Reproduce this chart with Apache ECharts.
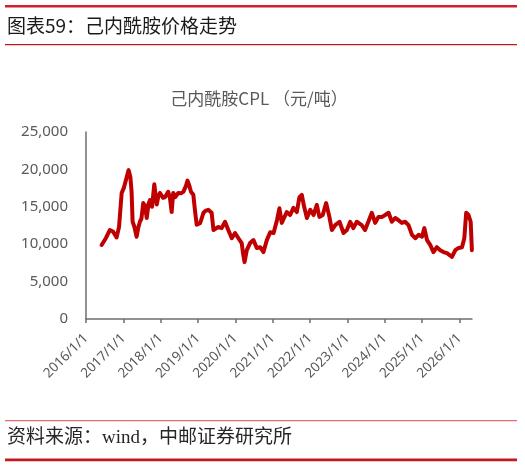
<!DOCTYPE html>
<html>
<head>
<meta charset="utf-8">
<script src="https://cdn.jsdelivr.net/npm/echarts@6/dist/echarts.min.js"></script>
<style>
  html, body { margin: 0; padding: 0; background: #fff; }
  #main { width: 525px; height: 467px; }
</style>
</head>
<body>
<div id="main"></div>
<script>
// 己内酰胺CPL价格（元/吨），读图估计
const dates = [
  '2016-06-02', '2016-07-13', '2016-08-22', '2016-09-21', '2016-10-26', '2016-11-19', '2016-12-15',
  '2017-01-07', '2017-02-03', '2017-02-21', '2017-03-10', '2017-03-22', '2017-04-01', '2017-04-19',
  '2017-05-10', '2017-05-28', '2017-06-11', '2017-06-26', '2017-07-14', '2017-07-30', '2017-08-17',
  '2017-09-04', '2017-09-18', '2017-10-08', '2017-10-30', '2017-11-23', '2017-12-10', '2017-12-25',
  '2018-01-24', '2018-02-13', '2018-03-15', '2018-04-01', '2018-04-18', '2018-05-03', '2018-05-24',
  '2018-06-21', '2018-07-17', '2018-08-10', '2018-09-05', '2018-09-20', '2018-10-04', '2018-10-24',
  '2018-11-16', '2018-12-02', '2018-12-19', '2019-01-21', '2019-02-23', '2019-03-19', '2019-04-11',
  '2019-05-14', '2019-06-01', '2019-06-16', '2019-07-18', '2019-08-20', '2019-09-22', '2019-10-24',
  '2019-11-27', '2019-12-29', '2020-01-31', '2020-03-03', '2020-03-16', '2020-03-31', '2020-04-22',
  '2020-05-24', '2020-06-26', '2020-07-29', '2020-08-31', '2020-10-02', '2020-11-04', '2020-12-07',
  '2021-01-09', '2021-02-11', '2021-03-07', '2021-03-30', '2021-04-15', '2021-05-18', '2021-06-20',
  '2021-07-22', '2021-08-24', '2021-09-19', '2021-10-12', '2021-11-04', '2021-12-01', '2022-01-03',
  '2022-02-04', '2022-03-08', '2022-04-02', '2022-05-05', '2022-06-07', '2022-07-09', '2022-08-02',
  '2022-09-04', '2022-10-16', '2022-11-24', '2022-12-27', '2023-01-29', '2023-02-28', '2023-04-03',
  '2023-05-21', '2023-06-23', '2023-07-25', '2023-08-28', '2023-09-30', '2023-11-01', '2023-12-04',
  '2024-01-06', '2024-02-08', '2024-03-11', '2024-04-13', '2024-05-15', '2024-06-17', '2024-07-19',
  '2024-08-21', '2024-09-24', '2024-10-26', '2024-11-28', '2024-12-31', '2025-01-23', '2025-02-18',
  '2025-03-21', '2025-04-22', '2025-05-25', '2025-06-27', '2025-07-29', '2025-09-01', '2025-10-20',
  '2025-11-22', '2025-12-24', '2026-01-26', '2026-02-18', '2026-03-08', '2026-03-31', '2026-04-21',
  '2026-05-03'
];
const prices = [
  9900, 10800, 11900, 11700, 10900, 12300, 16850,
  17600, 19000, 19900, 19000, 17000, 13000, 12300,
  11000, 12300, 13000, 13400, 15500, 15200, 13500,
  15400, 15900, 15000, 18000, 15300, 16500, 16850,
  16200, 16300, 17000, 16200, 14300, 16850, 16300,
  16850, 16800, 17000, 17800, 18500, 18000, 17000,
  16600, 14500, 12600, 12800, 14200, 14500, 14600,
  14200, 11900, 12000, 12300, 12150, 13000, 11900,
  10800, 11500, 10800, 10150, 8800, 7600, 9200,
  10150, 10550, 9500, 9600, 8950, 10550, 11600,
  11500, 13200, 14800, 12850, 13000, 14300, 13900,
  14850, 14300, 16300, 16600, 15000, 13500, 14600,
  13900, 15250, 13650, 13900, 15500, 13650, 11900,
  12550, 13000, 11500, 11900, 13000, 12150, 13000,
  12550, 11900, 13000, 14200, 12850, 13650, 13650,
  13900, 14200, 13000, 13500, 13200, 12850, 13000,
  12550, 11250, 10800, 11250, 11000, 12150, 10550,
  9900, 8950, 9600, 9200, 8950, 8800, 8300,
  9200, 9500, 9600, 10800, 14200, 13900, 13000,
  9200
];
const yTicks = [0, 5000, 10000, 15000, 20000, 25000];
const xStart = '2016-01-01';
const xEnd = '2026-05-04';

const chart = echarts.init(document.getElementById('main'));
const YEAR = 365 * 24 * 3600 * 1000;

const option = {
    backgroundColor: '#fff',
    animation: false,
    title: {
        text: '己内酰胺CPL （元/吨）',
        left: 254,
        top: 85,
        textAlign: 'center',
        textStyle: {
            fontFamily: 'Noto Sans CJK SC',
            fontSize: 17,
            fontWeight: 'normal',
            color: '#595959'
        }
    },
    grid: {
        left: 86,
        right: 53,
        top: 132,
        bottom: 148,
        containLabel: false,
        outerBoundsMode: 'none'
    },
    xAxis: {
        type: 'time',
        min: xStart,
        max: xEnd,
        splitNumber: 10,
        minInterval: YEAR,
        maxInterval: YEAR,
        axisLine: { lineStyle: { color: '#6e6e6e', width: 1.5 } },
        axisTick: { show: true, length: 4, lineStyle: { color: '#6e6e6e', width: 1.5 } },
        splitLine: { show: false },
        axisLabel: {
            rotate: 45,
            margin: 17,
            color: '#595959',
            fontSize: 13.5,
            fontFamily: 'Noto Sans',
            showMinLabel: true,
            showMaxLabel: false,
            formatter: v => new Date(v).getFullYear() + '/1/1'
        }
    },
    yAxis: {
        type: 'value',
        min: yTicks[0],
        max: yTicks[yTicks.length - 1],
        interval: yTicks[1] - yTicks[0],
        axisLine: { show: true, lineStyle: { color: '#6e6e6e', width: 1.5 } },
        axisTick: { show: false },
        splitLine: { show: false },
        axisLabel: {
            margin: 18,
            color: '#595959',
            fontSize: 15,
            fontFamily: 'Noto Sans',
            formatter: v => v.toLocaleString('en-US')
        }
    },
    series: [
        {
            name: '己内酰胺CPL',
            type: 'line',
            showSymbol: false,
            data: dates.map((d, i) => [d, prices[i]]),
            lineStyle: { color: '#C00000', width: 4, join: 'round', cap: 'round' },
            itemStyle: { color: '#C00000' }
        }
    ],
    graphic: [
        // 页眉
        { type: 'rect', shape: { x: 5, y: 5, width: 512, height: 2.5 }, style: { fill: '#D21F2B' } },
        {
            type: 'text', left: 7, top: 16,
            style: { text: '图表59：己内酰胺价格走势', font: '19px "Noto Sans CJK SC"', fill: '#1a1a1a' }
        },
        { type: 'rect', shape: { x: 5, y: 44, width: 512, height: 1.2 }, style: { fill: '#C01818' } },
        // 页脚
        { type: 'rect', shape: { x: 5, y: 420, width: 512, height: 1.2 }, style: { fill: '#E46B72' } },
        {
            type: 'text', left: 7, top: 429,
            style: { text: '资料来源：wind，中邮证券研究所', font: '19px "Liberation Serif", "Noto Sans CJK SC"', fill: '#262626' }
        },
        { type: 'rect', shape: { x: 5, y: 458.5, width: 512, height: 2.8 }, style: { fill: '#C8161E' } }
    ]
};

option && chart.setOption(option);
</script>
</body>
</html>
